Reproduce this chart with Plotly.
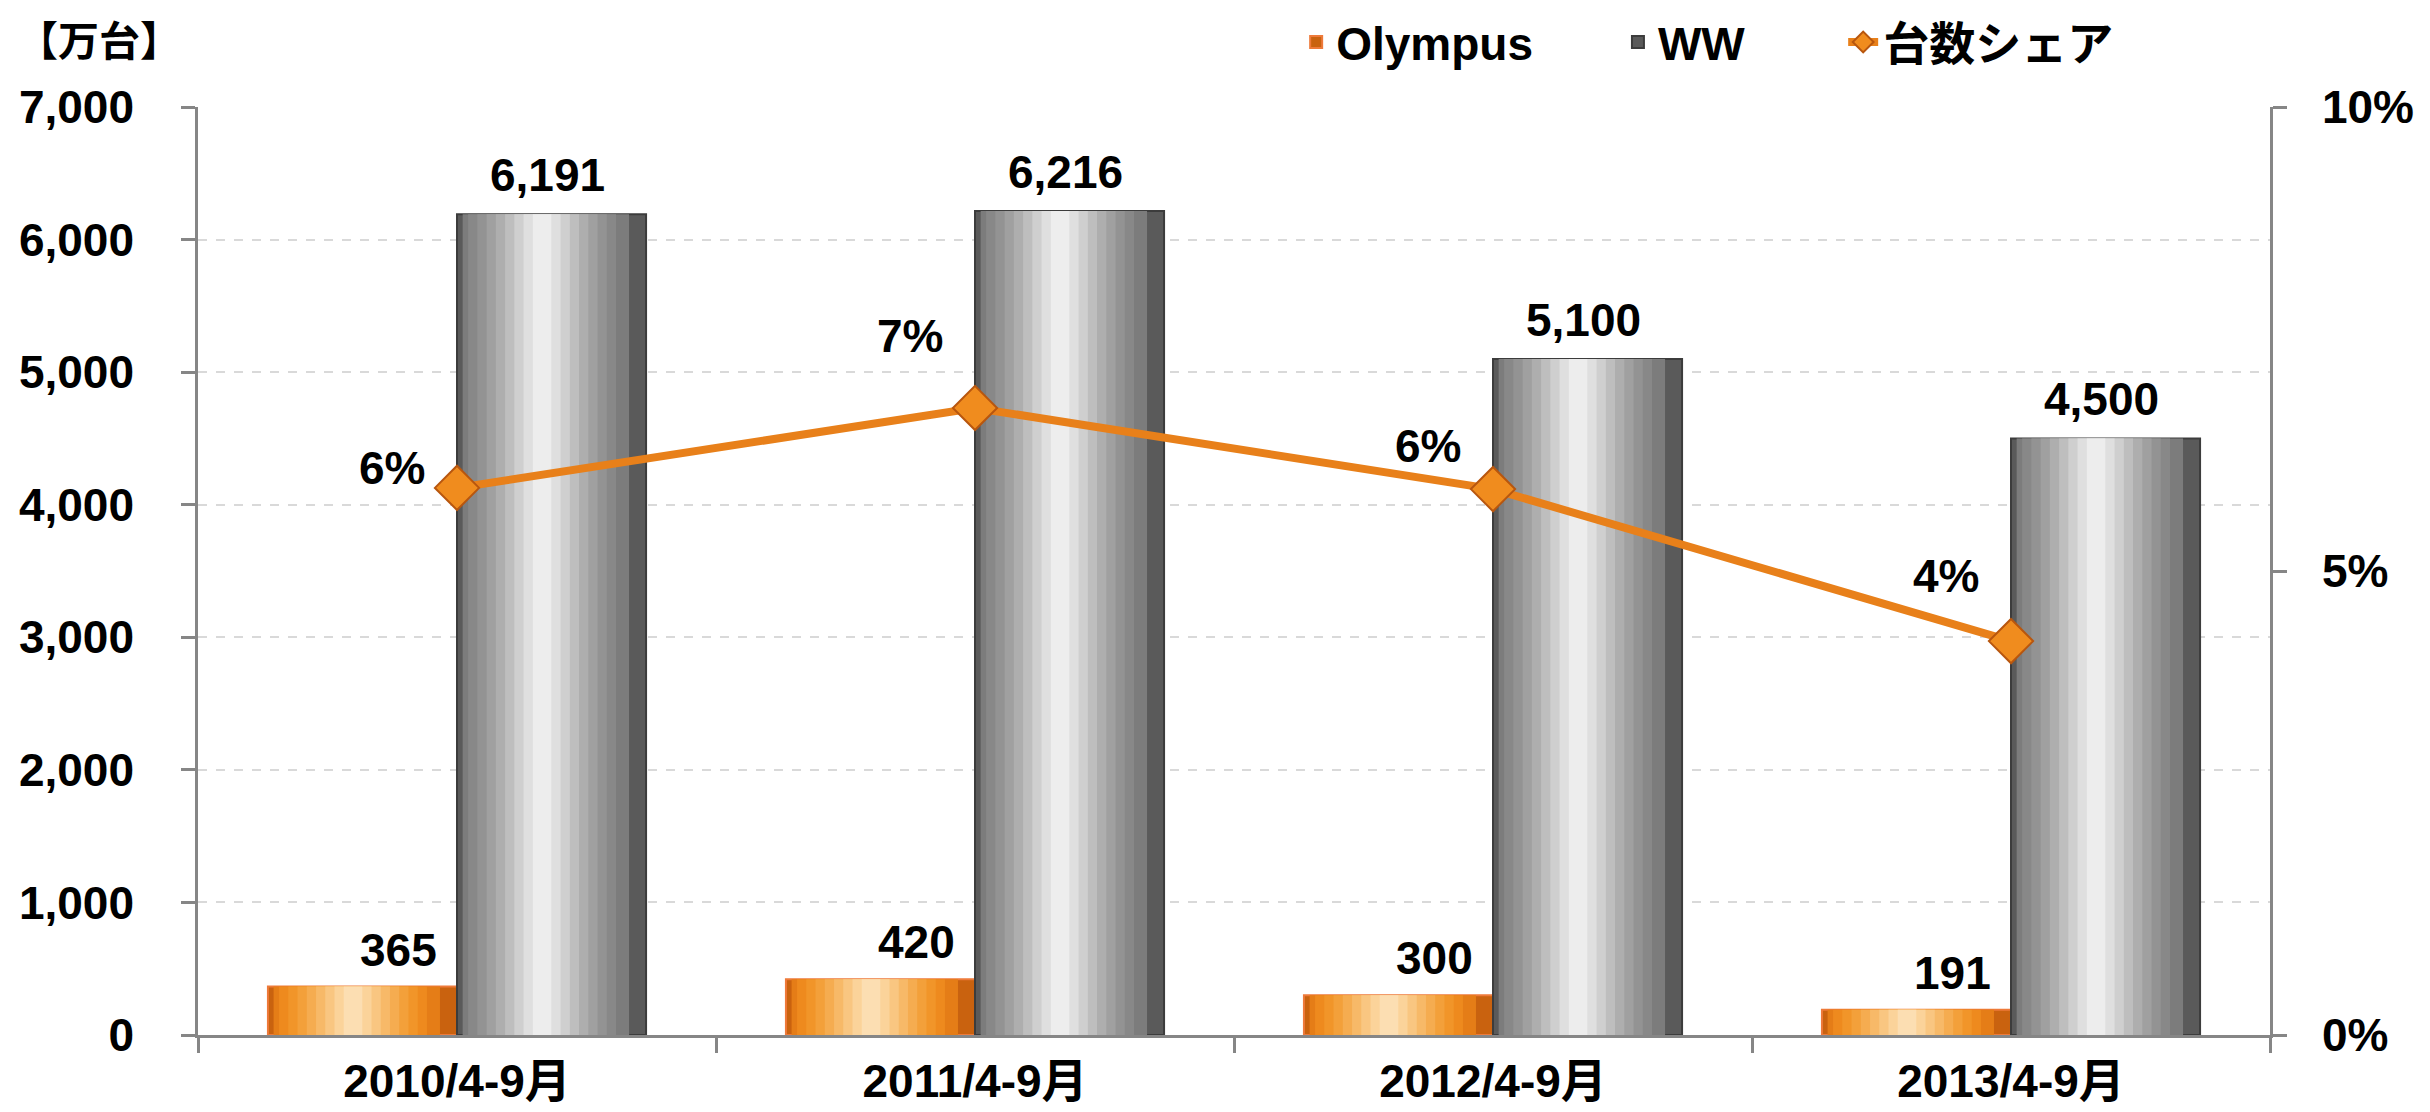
import plotly.graph_objects as go

categories = ["2010/4-9月", "2011/4-9月", "2012/4-9月", "2013/4-9月"]
olympus = [365, 420, 300, 191]
ww = [6191, 6216, 5100, 4500]
share = [o / w for o, w in zip(olympus, ww)]
share_labels = ["6%", "7%", "6%", "4%"]

FONT = "Liberation Sans, Arial, Noto Sans CJK JP, sans-serif"
FS = 46
W = 0.365
WIDTH, HEIGHT = 2430, 1112
ML, MR, MT, MB = 190, 168, 99, 85
cat_px = (WIDTH - ML - MR) / len(categories)

fig = go.Figure()


def cylinder(y, offset, base, outline, layers, name, legend):
    fig.add_trace(go.Bar(
        x=categories, y=y, name=name, offset=offset, width=W,
        marker=dict(color=base, line=dict(color=outline, width=2)),
        legend=legend, showlegend=True, hoverinfo="skip"))
    n = len(layers)
    c = 0.45  # highlight position within the bar (fraction of width)
    for i, col in enumerate(layers):
        frac = 0.88 * (1 - i / n)
        w = W * frac
        left = offset + W * c - w / 2
        left = max(left, offset + W * 0.03)
        fig.add_trace(go.Bar(
            x=categories, y=y, offset=left, width=w,
            marker=dict(color=col, line=dict(width=0)),
            showlegend=False, hoverinfo="skip"))


cylinder(olympus, -W, "#C9620F", "#EE7A3A",
         ["#E57D17", "#EE8A1E", "#F19529", "#F3A03A", "#F5AC50",
          "#F7B968", "#F9C681", "#FBD39A", "#FCDEB2"],
         "Olympus", "legend")
cylinder(ww, 0, "#5A5A5A", "#3C3C3C",
         ["#7C7C7C", "#888888", "#939393", "#A0A0A0", "#AEAEAE",
          "#BEBEBE", "#CFCFCF", "#DFDFDF", "#EDEDED"],
         "WW", "legend2")

fig.add_trace(go.Scatter(
    x=categories, y=share, yaxis="y2", name="台数シェア", mode="lines+markers",
    line=dict(color="#E8801A", width=8),
    marker=dict(symbol="diamond", size=34, color="#F08C1E",
                line=dict(color="#B8560E", width=2)),
    legend="legend3", hoverinfo="skip", cliponaxis=False))

label_font = dict(size=FS, color="black", family=FONT, weight="bold")

# bar value labels
for c, v in zip(categories, olympus):
    fig.add_annotation(x=c, y=v, text=f"{v:,}", showarrow=False,
                       xanchor="center", yanchor="middle",
                       xshift=-W / 2 * cat_px + 36, yshift=37, font=label_font)
for c, v in zip(categories, ww):
    fig.add_annotation(x=c, y=v, text=f"{v:,}", showarrow=False,
                       xanchor="center", yanchor="middle",
                       xshift=W / 2 * cat_px - 4, yshift=39, font=label_font)

# share labels
label_dy = [20, 72, 43, 65]
for c, s, t, dy in zip(categories, share, share_labels, label_dy):
    fig.add_annotation(x=c, y=s, yref="y2", text=t, showarrow=False,
                       xanchor="center", yanchor="middle", xshift=-65, yshift=dy,
                       font=label_font)

fig.add_annotation(x=-0.0885, xref="paper", y=1.070, yref="paper", text="【万台】",
                   showarrow=False, xanchor="left", yanchor="middle",
                   font=dict(size=41, color="black", family=FONT, weight="bold"))

legend_common = dict(orientation="h", yanchor="middle", y=1.070, xanchor="left",
                     bgcolor="rgba(0,0,0,0)",
                     font=dict(size=FS, color="black", family=FONT, weight="bold"))

axis_col = "#868686"
fig.update_layout(
    width=WIDTH, height=HEIGHT,
    margin=dict(l=ML, r=MR, t=MT, b=MB, autoexpand=False),
    paper_bgcolor="white", plot_bgcolor="white",
    barmode="overlay",
    font=dict(family=FONT, color="black", weight="bold"),
    xaxis=dict(showline=True, linecolor=axis_col, linewidth=2.5, automargin=False,
               ticks="outside", tickson="boundaries", ticklen=15, tickcolor=axis_col,
               tickwidth=2.5, ticklabelstandoff=4,
               tickfont=dict(size=FS, family=FONT, weight="bold"), showgrid=False),
    yaxis=dict(range=[0, 7000], dtick=1000, tickformat=",", automargin=False,
               showline=True, linecolor=axis_col, linewidth=2.5,
               ticks="outside", ticklen=14, tickcolor=axis_col, tickwidth=2.5,
               ticklabelstandoff=38,
               showgrid=True, gridcolor="#D9D9D9", griddash="dash", gridwidth=1.5,
               tickfont=dict(size=FS, family=FONT, weight="bold"), zeroline=False),
    yaxis2=dict(range=[0, 0.1], dtick=0.05, tickformat=".0%", overlaying="y", side="right",
                automargin=False, showline=True, linecolor=axis_col, linewidth=2.5,
                ticks="outside", ticklen=14, tickcolor=axis_col, tickwidth=2.5,
                ticklabelstandoff=26, showgrid=False,
                tickfont=dict(size=FS, family=FONT, weight="bold"), zeroline=False),
    legend=dict(x=0.530, **legend_common),
    legend2=dict(x=0.6853, **legend_common),
    legend3=dict(x=0.794, **legend_common),
)

fig.write_html("out.html")
